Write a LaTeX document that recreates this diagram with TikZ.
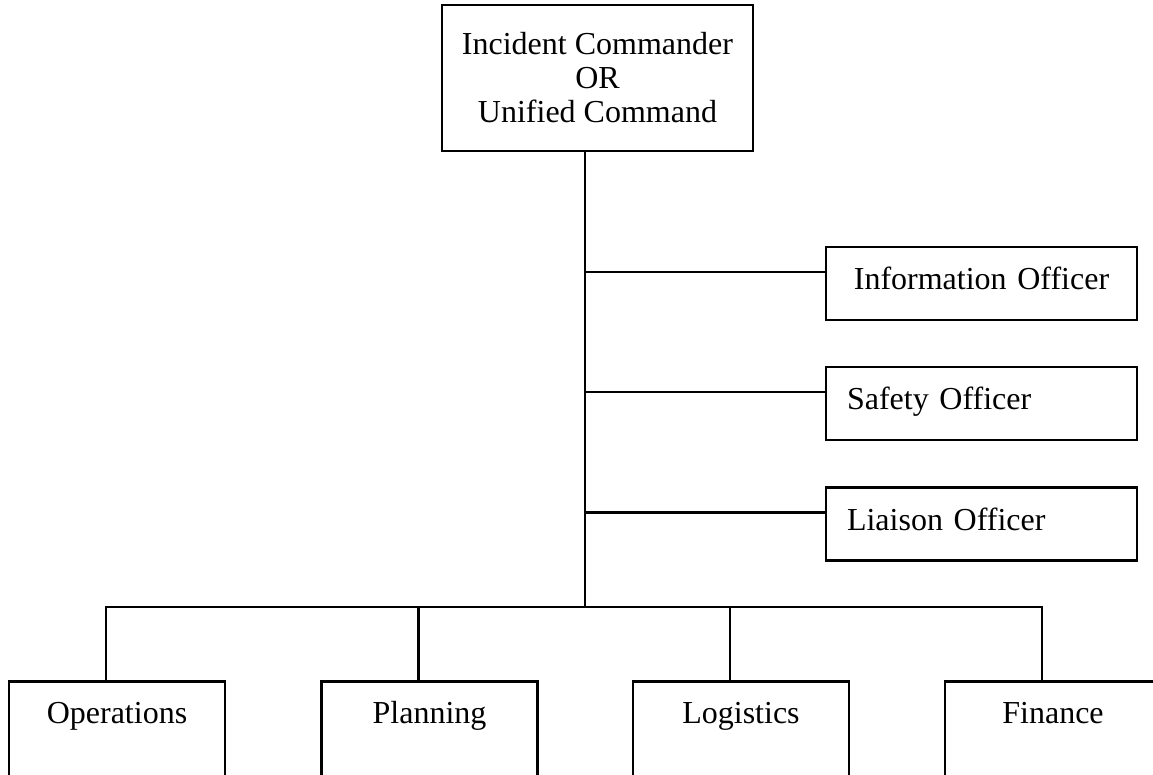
\documentclass[tikz,border=0pt]{standalone}
\usepackage{fontspec}
\setmainfont{Liberation Serif}
\begin{document}
\begin{tikzpicture}[x=0.5pt,y=-0.5pt,line width=1.3pt,
  box/.style={draw,rectangle,inner sep=0pt,font=\fontsize{16}{17}\selectfont},
  topbox/.style={box,minimum width=155.5pt,minimum height=73pt,align=center},
  sidebox/.style={box,minimum width=155.5pt,minimum height=36.5pt,text width=134.5pt,align=left,text height=13.5pt,text depth=7pt},
  lowbox/.style={box,anchor=north,minimum width=108pt,text height=21pt,text depth=45pt}]
\useasboundingbox (0,0) rectangle (1153,775);
\clip (0,0) rectangle (1153,775);

\node[topbox] (ic) at (597.5,78) {Incident Commander\\OR\\Unified Command};

\node[sidebox,align=center] (info) at (981.5,283.5) {Information Officer};
\node[sidebox] (safety) at (981.5,403.5) {Safety Officer};
\node[sidebox] (liaison) at (981.5,524) {Liaison Officer};

\node[lowbox] (ops) at (117,680) {Operations};
\node[lowbox] (plan) at (429.5,680) {Planning};
\node[lowbox] (log) at (741,680) {Logistics};
\node[lowbox] (fin) at (1053,680) {Finance};

\coordinate (hub) at (585,607);
\draw (ic.south -| hub) -- (hub);

\draw ([yshift=5.75pt]info.west) -- ([yshift=5.75pt]info.west -| hub);
\draw ([yshift=5.75pt]safety.west) -- ([yshift=5.75pt]safety.west -| hub);
\draw ([yshift=5.75pt]liaison.west) -- ([yshift=5.75pt]liaison.west -| hub);

\draw ([xshift=-5.5pt]ops.north) -- ++(0,-73) -| ([xshift=-5.5pt]fin.north);
\draw ([xshift=-5.5pt]plan.north) -- ([xshift=-5.5pt]plan.north |- hub);
\draw ([xshift=-5.5pt]log.north) -- ([xshift=-5.5pt]log.north |- hub);
\end{tikzpicture}
\end{document}
